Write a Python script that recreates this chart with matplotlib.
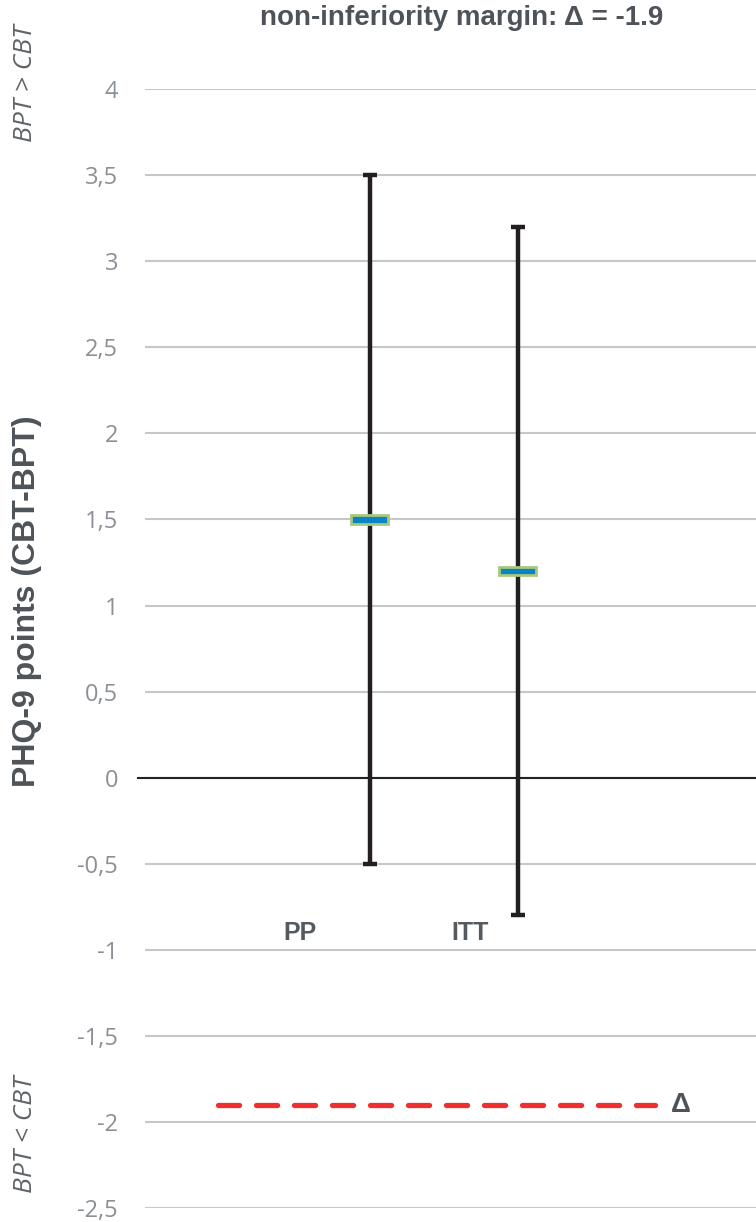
import matplotlib.pyplot as plt
from matplotlib.ticker import MultipleLocator, FuncFormatter

plt.rcParams['font.family'] = ['Liberation Sans', 'DejaVu Sans']

# data
groups = ["PP", "ITT"]
mean_diff = [1.5, 1.2]
ci_low = [-0.5, -0.8]
ci_high = [3.5, 3.2]
margin = -1.9

fig = plt.figure(figsize=(7.56, 12.22), dpi=100)
ax = fig.add_axes([0.192, 0.0115, 0.808, 0.9155])

xpos = [1, 2]
ax.set_xlim(-0.52, 3.61)
ax.set_ylim(-2.5, 4)

# gridlines
ax.yaxis.set_major_locator(MultipleLocator(0.5))
ax.grid(axis='y', color='#c4c8cc', lw=1.5)
ax.set_axisbelow(True)
ax.axhline(0, color='#222222', lw=1.5, xmin=-0.012, clip_on=False, zorder=2)

for s in ax.spines.values():
    s.set_visible(False)
ax.set_xticks([])
ax.tick_params(axis='y', length=0, pad=19.5, labelsize=17, labelcolor='#8a9096')
for lab in ax.get_yticklabels():
    lab.set_family(['Open Sans', 'DejaVu Sans'])
ax.yaxis.set_major_formatter(FuncFormatter(lambda v, p: ('%g' % v).replace('.', ',')))

# confidence intervals
for x, m, lo, hi in zip(xpos, mean_diff, ci_low, ci_high):
    ax.vlines(x, lo, hi, color='#231f20', lw=3.2, zorder=3)
    ax.hlines([lo, hi], x - 0.045, x + 0.045, color='#231f20', lw=3.2, zorder=3)
    ax.bar(x, 0.05, bottom=m - 0.025, width=0.25, color='#0a84c6',
           edgecolor='#a8c97c', lw=2, zorder=5)

# group labels
for x, g, dx in zip(xpos, groups, [-0.47, -0.32]):
    ax.text(x + dx, -0.9, g, ha='center', va='center', fontsize=18,
            fontweight='bold', color='#545a5e')

# non-inferiority margin
ax.plot([-0.03, 2.93], [margin, margin], color='#ee3030', lw=3.8,
        dashes=(4, 3.2), solid_capstyle='round', dash_capstyle='round', zorder=3)
ax.text(3.1, margin, "Δ", ha='center', va='center', fontsize=20,
        fontweight='bold', color='#4d5358')

fig.text(0.61, 0.985, "non-inferiority margin: Δ = -1.9", ha='center', va='center',
         fontsize=20, fontweight='bold', color='#4d5358')
fig.text(0.036, 0.508, "PHQ-9 points (CBT-BPT)", rotation=90, ha='center', va='center',
         fontsize=23, fontweight='bold', color='#4d5358')
fig.text(0.034, 0.932, "BPT > CBT", rotation=90, ha='center', va='center',
         fontsize=19, style='italic', color='#5f6468',
         family=['Open Sans', 'DejaVu Sans'])
fig.text(0.034, 0.072, "BPT < CBT", rotation=90, ha='center', va='center',
         fontsize=19, style='italic', color='#5f6468',
         family=['Open Sans', 'DejaVu Sans'])

fig.savefig("out.png", dpi=100)
